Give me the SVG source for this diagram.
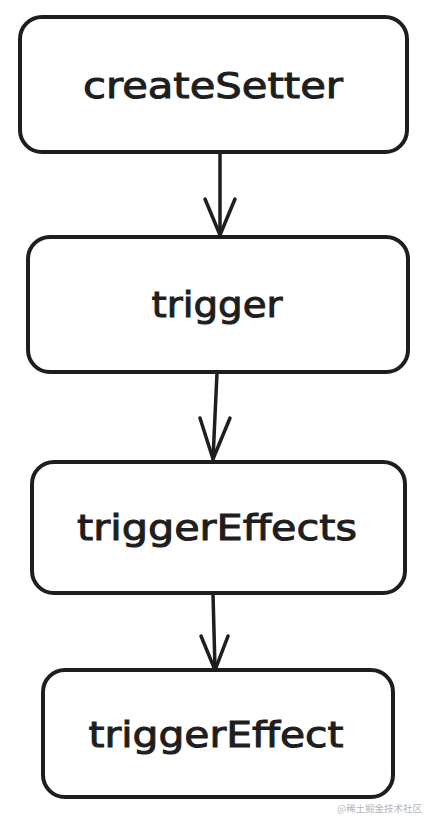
<svg xmlns="http://www.w3.org/2000/svg" width="426" height="817" viewBox="0 0 426 817">
<style>
.box{fill:#fff;stroke:#1e1e1e;stroke-width:4;stroke-linejoin:round}
.lbl{font-family:"DejaVu Sans","Liberation Sans",sans-serif;font-size:36px;fill:#1e1e1e;stroke:#1e1e1e;stroke-width:1;text-anchor:middle}
.edge{fill:none;stroke:#1e1e1e;stroke-width:3.5;stroke-linecap:round;stroke-linejoin:round}
.wm{font-family:"Noto Sans CJK SC",sans-serif;font-size:9.5px;fill:#b4b4b4;text-anchor:end}
</style>
<rect width="426" height="817" fill="#fff"/>
<g id="connectors">
<path class="edge" d="M220,153 L220,234"/>
<path class="edge" d="M205,199 L220,235 L235,199"/>
<path class="edge" d="M217,373 L213,459"/>
<path class="edge" d="M200,418 L213,459 L230,418"/>
<path class="edge" d="M213,594 L215,669"/>
<path class="edge" d="M201,636 L215,670 L228,636"/>
</g>
<g id="node-createSetter">
<rect class="box" x="20" y="17" width="387" height="135" rx="22"/>
<text class="lbl" x="213" y="98" textLength="260" lengthAdjust="spacingAndGlyphs">createSetter</text>
</g>
<g id="node-trigger">
<rect class="box" x="28" y="237" width="380" height="135" rx="22"/>
<text class="lbl" x="217" y="317" textLength="131" lengthAdjust="spacingAndGlyphs">trigger</text>
</g>
<g id="node-triggerEffects">
<rect class="box" x="32" y="462" width="373" height="131" rx="22"/>
<text class="lbl" x="217" y="540" textLength="280" lengthAdjust="spacingAndGlyphs">triggerEffects</text>
</g>
<g id="node-triggerEffect">
<rect class="box" x="43" y="670" width="350" height="127" rx="22"/>
<text class="lbl" x="216" y="747" textLength="255" lengthAdjust="spacingAndGlyphs">triggerEffect</text>
</g>
<text class="wm" x="422" y="812">@稀土掘金技术社区</text>
</svg>
